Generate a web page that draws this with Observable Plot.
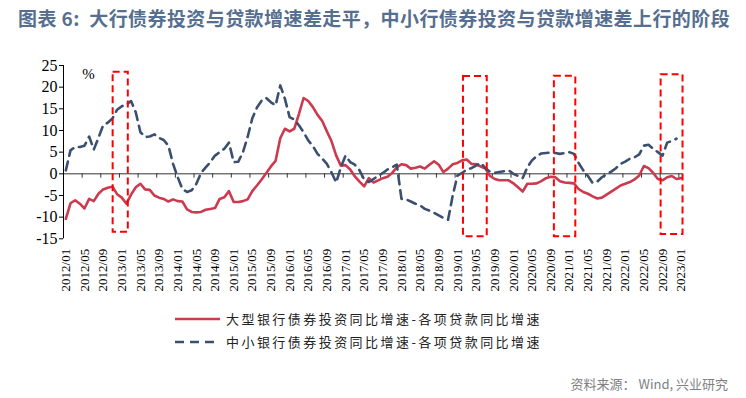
<!DOCTYPE html>
<html><head><meta charset="utf-8">
<script src="https://cdn.jsdelivr.net/npm/d3@7"></script>
<script src="https://cdn.jsdelivr.net/npm/@observablehq/plot@0.6"></script>
<style>
body{margin:0;background:#fff;}
#wrap{position:relative;width:746px;height:398px;overflow:hidden;font-family:"Noto Sans CJK SC",sans-serif;background:#fff;}
#title{position:absolute;left:18px;top:8px;font-size:19px;line-height:20px;font-weight:bold;color:#566f90;white-space:nowrap;letter-spacing:0.42px;}
#chart{position:absolute;left:0;top:50px;}
#legend{position:absolute;left:175px;top:307.6px;font-size:13px;letter-spacing:2.45px;color:#222;}
.row{display:flex;align-items:center;height:22.7px;white-space:nowrap;}
.row svg{margin-right:6px;}
#caption{position:absolute;right:18px;top:375px;font-size:13px;line-height:18px;color:#808080;white-space:nowrap;}
</style></head><body>
<div id="wrap">
<div id="title">图表 6:&nbsp; 大行债券投资与贷款增速差走平，中小行债券投资与贷款增速差上行的阶段</div>
<div id="chart"></div>
<div id="legend"></div>
<div id="caption">资料来源： Wind, 兴业研究</div>
</div>
<script>
// Categories: monthly 2012/01 .. 2023/01
const months = Array.from({length: 133}, (_, i) => `${2012 + Math.floor(i / 12)}/${String(i % 12 + 1).padStart(2, "0")}`);

const tickLabels = ["2012/01","2012/05","2012/09","2013/01","2013/05","2013/09","2014/01","2014/05","2014/09",
  "2015/01","2015/05","2015/09","2016/01","2016/05","2016/09","2017/01","2017/05","2017/09","2018/01","2018/05",
  "2018/09","2019/01","2019/05","2019/09","2020/01","2020/05","2020/09","2021/01","2021/05","2021/09","2022/01",
  "2022/05","2022/09","2023/01"];

const yTicks = [-15, -10, -5, 0, 5, 10, 15, 20, 25];

const seriesNames = ["大型银行债券投资同比增速-各项贷款同比增速", "中小银行债券投资同比增速-各项贷款同比增速"];

// 大型银行债券投资同比增速-各项贷款同比增速 (2012/01 ..)
const largeBanks = [
  -10.4, -6.8, -6.1, -6.9, -8.0, -5.8, -6.3, -4.6, -3.6, -3.2, -3.0, -4.7,
  -5.5, -6.9, -4.8, -3.1, -2.3, -3.6, -3.7, -5.0, -5.5, -5.8, -6.4, -5.9,
  -6.3, -6.4, -8.2, -8.8, -8.9, -8.8, -8.3, -8.1, -7.9, -5.8, -5.4, -4.0,
  -6.5, -6.5, -6.3, -5.9, -4.0, -2.7, -1.3, 0.2, 1.7, 3.0, 8.2, 10.4,
  9.8, 10.4, 13.8, 17.5, 16.8, 15.4, 13.6, 12.2, 9.8, 7.5, 4.2, 1.9,
  2.0, 1.0, -0.6, -1.8, -2.9, -1.0, -2.0, -1.5, -1.0, -0.7, 0.2, 1.5,
  2.2, 2.0, 1.2, 1.4, 1.7, 1.2, 2.1, 2.9, 2.1, 0.4, 1.2, 2.2,
  2.5, 3.1, 3.3, 2.3, 2.2, 1.7, 1.2, -0.5, -1.2, -1.5, -1.5, -1.5,
  -2.2, -3.1, -4.1, -2.3, -2.3, -2.2, -1.7, -1.0, -0.7, -0.8, -1.7, -2.0,
  -2.1, -2.2, -3.5, -4.2, -4.6, -5.2, -5.7, -5.5, -4.8, -4.1, -3.4, -2.7,
  -2.3, -1.9, -1.3, -0.4, 1.8, 1.3, 0.2, -1.2, -1.5, -0.8, -0.5, -1.2,
  -1.0
];

// 中小银行债券投资同比增速-各项贷款同比增速 (2012/01 ..)
const smallBanks = [
  0.8, 5.4, 6.2, 6.2, 6.5, 8.6, 5.6, 8.3, 11.2, 11.8, 12.8, 14.8,
  15.6, 16.0, 16.8, 14.2, 9.6, 8.5, 8.6, 9.1, 8.3, 7.8, 6.5, 2.3,
  -0.8, -3.5, -4.2, -3.8, -2.3, 0.2, 1.5, 2.7, 4.2, 5.0, 5.8, 7.2,
  2.7, 2.8, 5.0, 8.5, 12.8, 15.3, 16.9, 17.5, 16.5, 15.8, 20.4, 17.3,
  13.1, 12.5, 11.2, 9.6, 7.7, 6.4, 4.6, 3.5, 2.3, 0.3, -2.0, 1.5,
  4.2, 2.7, 2.1, 0.8, -1.3, -1.9, -1.2, -0.5, 0.2, 1.0, 1.5, 2.1,
  -5.8, -5.9, -6.4, -6.9, -7.3, -8.1, -8.5, -9.0, -9.6, -10.2, -10.6, -5.0,
  -0.4, 0.2, 1.0, 1.3, 1.9, 2.5, 1.3, 0.5, 0.2, 0.4, 0.6, 0.8,
  0.0, -0.5, -1.0, 1.5, 3.1, 4.1, 4.7, 4.8, 4.9, 4.8, 4.6, 4.8,
  5.0, 4.6, 2.5, 0.8, -0.5, -2.1, -1.8, -0.8, -0.1, 0.5, 1.3, 2.3,
  2.8, 3.5, 3.8, 4.5, 6.5, 6.7, 5.8, 5.0, 4.2, 7.2, 7.6, 8.1
];

// Highlight boxes (month index span, value span)
const boxStart = [10.15, 85.3, 104.8, 127.7];
const boxEnd   = [13.4, 90.4, 109.4, 132.4];
const boxTop   = [23.45, 22.45, 22.5, 22.85];
const boxBottom= [-13.5, -14.5, -14.5, -14.0];

const largeData = largeBanks.map((v, i) => ({i, v}));
const smallData = smallBanks.map((v, i) => ({i, v}));
const boxes = boxStart.map((s, k) => ({x1: s, x2: boxEnd[k], y1: boxBottom[k], y2: boxTop[k]}));
const tickIdx = tickLabels.map(l => months.indexOf(l));
const tickMarks = tickIdx.slice(1).map(i => i - 0.5);

const redColor = "#cb3a4e", blueColor = "#3b4f6f";

const chart = Plot.plot({
  width: 746, height: 250,
  marginLeft: 63, marginRight: 63, marginTop: 15, marginBottom: 61.7,
  style: {background: "transparent", color: "#000", overflow: "visible"},
  x: {domain: [-0.5, 132.5], axis: null, label: null},
  y: {domain: [-15, 25], axis: null, label: null},
  marks: [
    Plot.ruleY([0], {x1: -0.5, x2: 132.5, stroke: "#333", strokeWidth: 1}),
    Plot.ruleX(tickMarks, {y1: 0, y2: -1, stroke: "#333", strokeWidth: 1}),
    Plot.ruleX([-0.5], {y1: -15, y2: 25, stroke: "#000", strokeWidth: 1}),
    Plot.axisY({ticks: yTicks, tickSize: 4, tickPadding: 2, tickFormat: d => String(d), fontSize: 16, fontFamily: "Liberation Serif", label: null, anchor: "left"}),
    Plot.axisX({ticks: tickIdx, tickFormat: i => months[i], tickRotate: -90, tickSize: 0, tickPadding: 10, fontSize: 13, fontFamily: "Liberation Serif", label: null, anchor: "bottom"}),
    Plot.line(largeData, {x: "i", y: "v", stroke: redColor, strokeWidth: 2.6}),
    Plot.line(smallData, {x: "i", y: "v", stroke: blueColor, strokeWidth: 2.6, strokeDasharray: "9,6"}),
    Plot.rect(boxes, {x1: "x1", x2: "x2", y1: "y1", y2: "y2", fill: "none", stroke: "#ff0000", strokeWidth: 2, strokeDasharray: "7,4"}),
    Plot.text(["%"], {frameAnchor: "top-left", dx: 25, dy: 3, fontSize: 15, fontFamily: "Liberation Serif", textAnchor: "middle"})
  ]
});
document.getElementById("chart").appendChild(chart);

// Legend
const legend = document.getElementById("legend");
seriesNames.forEach((name, k) => {
  const row = document.createElement("div");
  row.className = "row";
  const dash = k === 1 ? 'stroke-dasharray="9,6"' : "";
  const col = k === 0 ? redColor : blueColor;
  row.innerHTML = `<svg width="45" height="6"><line x1="0" y1="3" x2="45" y2="3" stroke="${col}" stroke-width="2.6" ${dash}/></svg><span>${name}</span>`;
  legend.appendChild(row);
});
</script>
</body></html>
